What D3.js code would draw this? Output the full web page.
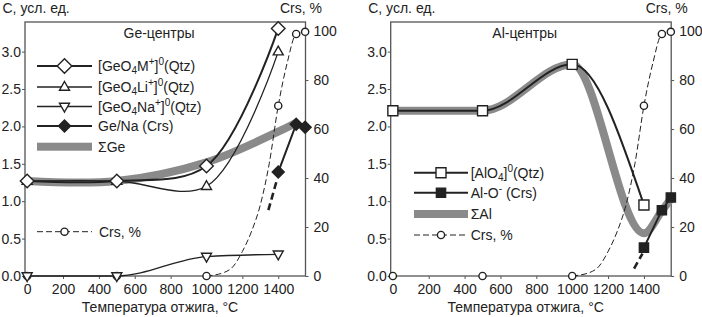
<!DOCTYPE html>
<html>
<head>
<meta charset="utf-8">
<script src="https://cdn.jsdelivr.net/npm/d3@7"></script>
<style>
  body { margin: 0; background: #fff; }
  svg { font-family: "Liberation Sans", Arial, sans-serif; display: block; }
</style>
</head>
<body>
<div class="chart"></div>
<script>
let w = 702, h = 317;
let svg = d3.select('.chart').append('svg').attr('width', w).attr('height', h);

/* ==== DATA ==== */

// annealing temperatures, °C
let qtzTemps = [0, 500, 1000, 1400];
let crsTemps = [1400, 1500, 1550];
let extTemps = [1345, 1392];   // bold dashed extrapolation below 1400

// Ge centres
let geM = [1.27, 1.27, 1.47, 3.31];
let geLi = [1.27, 1.27, 1.20, 3.00];
let geNa = [0, 0, 0.26, 0.29];
let geNaCrs = [1.39, 2.03, 1.99];
let geNaExt = [0.88, 1.28];
let geSumTemps = [0, 500, 1000, 1400, 1500];
let geSum = [1.27, 1.27, 1.52, 1.93, 2.05];

// Al centres
let alO4 = [2.21, 2.21, 2.83, 0.95];
let alOCrs = [0.38, 0.88, 1.05];
let alOExt = [0.10, 0.30];
let alSumTemps = [0, 500, 1000, 1400, 1500, 1550];
let alSum = [2.21, 2.21, 2.83, 0.57, 0.87, 1.03];

// cristobalite content, %
let crsPctTemps = [0, 500, 1000, 1400, 1500, 1550];
let crsPct = [0, 0, 0, 69.5, 98.8, 99.7];
let crsFitTemps = [1000, 1100, 1150, 1200, 1250, 1300, 1350, 1400, 1450, 1500, 1550];
let crsFit = [0, 1.5, 4, 10, 18, 29, 46, 69.5, 87, 98.8, 99.7];

// ticks
let xTicks = [0, 200, 400, 600, 800, 1000, 1200, 1400];
let yTicks = [0, 0.5, 1.0, 1.5, 2.0, 2.5, 3.0];
let pctTicks = [0, 20, 40, 60, 80, 100];

let ink = '#222', axisCol = '#555', bandCol = '#8a8a8a';

/* ==== HELPERS ==== */

function zip(xs, ys) {
    return xs.map(function (t, i) { return [t, ys[i]]; });
}

function diamond(r) { return 'M0,' + (-r) + 'L' + r + ',0L0,' + r + 'L' + (-r) + ',0Z'; }
function triUp(s) { return 'M0,' + (-s * 1.1) + 'L' + s + ',' + (s * 0.65) + 'L' + (-s) + ',' + (s * 0.65) + 'Z'; }
function triDown(s) { return 'M0,' + (s * 1.1) + 'L' + s + ',' + (-s * 0.65) + 'L' + (-s) + ',' + (-s * 0.65) + 'Z'; }
function square(s) { return 'M' + (-s) + ',' + (-s) + 'h' + (2 * s) + 'v' + (2 * s) + 'h' + (-2 * s) + 'Z'; }
function circle(r) { return 'M' + (-r) + ',0a' + r + ',' + r + ' 0 1,0 ' + (2 * r) + ',0a' + r + ',' + r + ' 0 1,0 ' + (-2 * r) + ',0Z'; }

// text with sub/superscripts: parts = [[text, 'sub'|'sup'|undefined], ...]
function richText(g, x, y, parts) {
    let t = g.append('text').attr('x', x).attr('y', y)
        .attr('font-size', 14).attr('fill', ink);
    let shift = 0;
    parts.forEach(function (p) {
        let target = p[1] === 'sub' ? 3 : (p[1] === 'sup' ? -6 : 0);
        let span = t.append('tspan').text(p[0]).attr('dy', target - shift);
        if (p[1]) span.attr('font-size', 10);
        shift = target;
    });
    return t;
}

/* ==== PANEL FRAME ==== */

function buildPanel(x0, title) {
    let g = svg.append('g').attr('transform', 'translate(' + x0 + ',0)');
    let x = d3.scaleLinear().domain([-12, 1552]).range([25, 305.5]);
    let y = d3.scaleLinear().domain([0, 3.396]).range([276, 22]);
    let y2 = d3.scaleLinear().domain([0, 103.7]).range([276, 22]);

    let xAxis = g.append('g').attr('transform', 'translate(0,276)')
        .call(d3.axisBottom(x).tickValues(xTicks).tickSize(3).tickPadding(5).tickFormat(d3.format('d')));
    let yAxis = g.append('g').attr('transform', 'translate(25,0)')
        .call(d3.axisLeft(y).tickValues(yTicks).tickSize(3).tickPadding(1).tickFormat(d3.format('.1f')));
    let y2Axis = g.append('g').attr('transform', 'translate(305.5,0)')
        .call(d3.axisRight(y2).tickValues(pctTicks).tickSize(3).tickPadding(5));

    [xAxis, yAxis, y2Axis].forEach(function (a) {
        a.select('.domain').remove();
        a.selectAll('line').attr('stroke', axisCol);
        a.selectAll('text').attr('font-size', 14).attr('fill', ink)
            .attr('font-family', '"Liberation Sans", Arial, sans-serif');
    });

    g.append('rect')
        .attr('x', 25).attr('y', 22)
        .attr('width', 280.5).attr('height', 254)
        .attr('fill', 'none').attr('stroke', axisCol).attr('stroke-width', 1.3);

    g.append('text').text('C, усл. ед.')
        .attr('x', 2.5).attr('y', 13).attr('font-size', 14).attr('fill', ink);
    g.append('text').text('Crs, %')
        .attr('x', 322).attr('y', 13).attr('text-anchor', 'end')
        .attr('font-size', 14).attr('fill', ink);
    g.append('text').text('Температура отжига, °C')
        .attr('x', 160).attr('y', 312).attr('text-anchor', 'middle')
        .attr('font-size', 14).attr('fill', ink);
    g.append('text').text(title)
        .attr('x', 159).attr('y', 38).attr('text-anchor', 'middle')
        .attr('font-size', 14).attr('fill', ink);

    return { g: g, x: x, y: y, y2: y2 };
}

function drawLine(p, pts, sy, opts) {
    let gen = d3.line()
        .x(function (d) { return p.x(d[0]); })
        .y(function (d) { return sy(d[1]); })
        .curve(opts.curve || d3.curveLinear);
    p.g.append('path')
        .attr('d', gen(pts))
        .attr('fill', 'none')
        .attr('stroke', opts.color || ink)
        .attr('stroke-width', opts.width || 1.2)
        .attr('stroke-dasharray', opts.dash || null);
}

function drawMarkers(p, pts, sy, shape, fill) {
    p.g.selectAll(null)
        .data(pts)
        .enter().append('path')
        .attr('transform', function (d) { return 'translate(' + p.x(d[0]) + ',' + sy(d[1]) + ')'; })
        .attr('d', shape)
        .attr('fill', fill)
        .attr('stroke', ink)
        .attr('stroke-width', 1.4);
}

function crsCurve(p) {
    drawLine(p, zip(crsFitTemps, crsFit), p.y2, { width: 1, dash: '6,3', curve: d3.curveMonotoneX });
    drawMarkers(p, zip(crsPctTemps, crsPct), p.y2, circle(3.6), '#fff');
}

function legendRow(g, x1, x2, cy, kind, shape, fill, label, tx) {
    if (kind === 'band') {
        g.append('rect').attr('x', x1).attr('y', cy - 4).attr('width', x2 - x1).attr('height', 8)
            .attr('fill', bandCol);
    } else {
        g.append('line').attr('x1', x1).attr('x2', x2).attr('y1', cy).attr('y2', cy)
            .attr('stroke', ink).attr('stroke-width', kind === 'thick' ? 2 : (kind === 'dash' ? 1 : 1.3))
            .attr('stroke-dasharray', kind === 'dash' ? '6,3' : null);
        g.append('path').attr('transform', 'translate(' + ((x1 + x2) / 2) + ',' + cy + ')')
            .attr('d', shape).attr('fill', fill).attr('stroke', ink).attr('stroke-width', 1.4);
    }
    richText(g, tx, cy + 5, label);
}

/* ==== Ge PANEL ==== */

let ge = buildPanel(0, 'Ge-центры');
let smooth = d3.curveMonotoneX;
let spline = d3.curveCatmullRom;

drawLine(ge, zip(geSumTemps, geSum), ge.y, { color: bandCol, width: 8, curve: spline });
crsCurve(ge);
drawLine(ge, zip(qtzTemps, geNa), ge.y, { width: 1.3, curve: smooth });
drawLine(ge, zip(qtzTemps, geLi), ge.y, { width: 1.3, curve: spline });
drawLine(ge, zip(qtzTemps, geM), ge.y, { width: 2, curve: spline });
drawLine(ge, zip(extTemps, geNaExt), ge.y, { width: 2.6, dash: '7,4' });
drawLine(ge, zip(crsTemps, geNaCrs), ge.y, { width: 2 });

drawMarkers(ge, zip(qtzTemps, geNa), ge.y, triDown(5), '#fff');
drawMarkers(ge, zip(qtzTemps, geLi), ge.y, triUp(5), '#fff');
drawMarkers(ge, zip(qtzTemps, geM), ge.y, diamond(6.8), '#fff');
drawMarkers(ge, zip(crsTemps, geNaCrs), ge.y, diamond(6), ink);

legendRow(ge.g, 37, 92, 66, 'thick', diamond(7.3), '#fff',
    [['[GeO'], ['4', 'sub'], ['M'], ['+', 'sup'], [']'], ['0', 'sup'], ['(Qtz)']], 98);
legendRow(ge.g, 37, 92, 87, 'thin', triUp(5), '#fff',
    [['[GeO'], ['4', 'sub'], ['Li'], ['+', 'sup'], [']'], ['0', 'sup'], ['(Qtz)']], 98);
legendRow(ge.g, 37, 92, 106.5, 'thin', triDown(5), '#fff',
    [['[GeO'], ['4', 'sub'], ['Na'], ['+', 'sup'], [']'], ['0', 'sup'], ['(Qtz)']], 98);
legendRow(ge.g, 37, 92, 126, 'thick', diamond(6), ink, [['Ge/Na (Crs)']], 98);
legendRow(ge.g, 37, 92, 146.7, 'band', null, null, [['\u03a3Ge']], 98);
legendRow(ge.g, 37, 92, 231.7, 'dash', circle(3.6), '#fff', [['Crs, %']], 99);

/* ==== Al PANEL ==== */

let al = buildPanel(365.7, 'Al-центры');

drawLine(al, zip(alSumTemps, alSum), al.y, { color: bandCol, width: 8, curve: smooth });
crsCurve(al);
drawLine(al, zip(qtzTemps, alO4), al.y, { width: 2, curve: smooth });
drawLine(al, zip(extTemps, alOExt), al.y, { width: 2.6, dash: '7,4' });
drawLine(al, zip(crsTemps, alOCrs), al.y, { width: 2 });

drawMarkers(al, zip(qtzTemps, alO4), al.y, square(5), '#fff');
drawMarkers(al, zip(crsTemps, alOCrs), al.y, square(4.6), ink);

legendRow(al.g, 48.3, 102.3, 172.7, 'thick', square(5), '#fff',
    [['[AlO'], ['4', 'sub'], [']'], ['0', 'sup'], ['(Qtz)']], 105);
legendRow(al.g, 48.3, 102.3, 192.7, 'thick', square(4.6), ink,
    [['Al-O'], ['-', 'sup'], [' (Crs)']], 105);
legendRow(al.g, 48.3, 102.3, 214, 'band', null, null, [['\u03a3Al']], 105);
legendRow(al.g, 48.3, 102.3, 235, 'dash', circle(3.6), '#fff', [['Crs, %']], 105);
</script>
</body>
</html>
